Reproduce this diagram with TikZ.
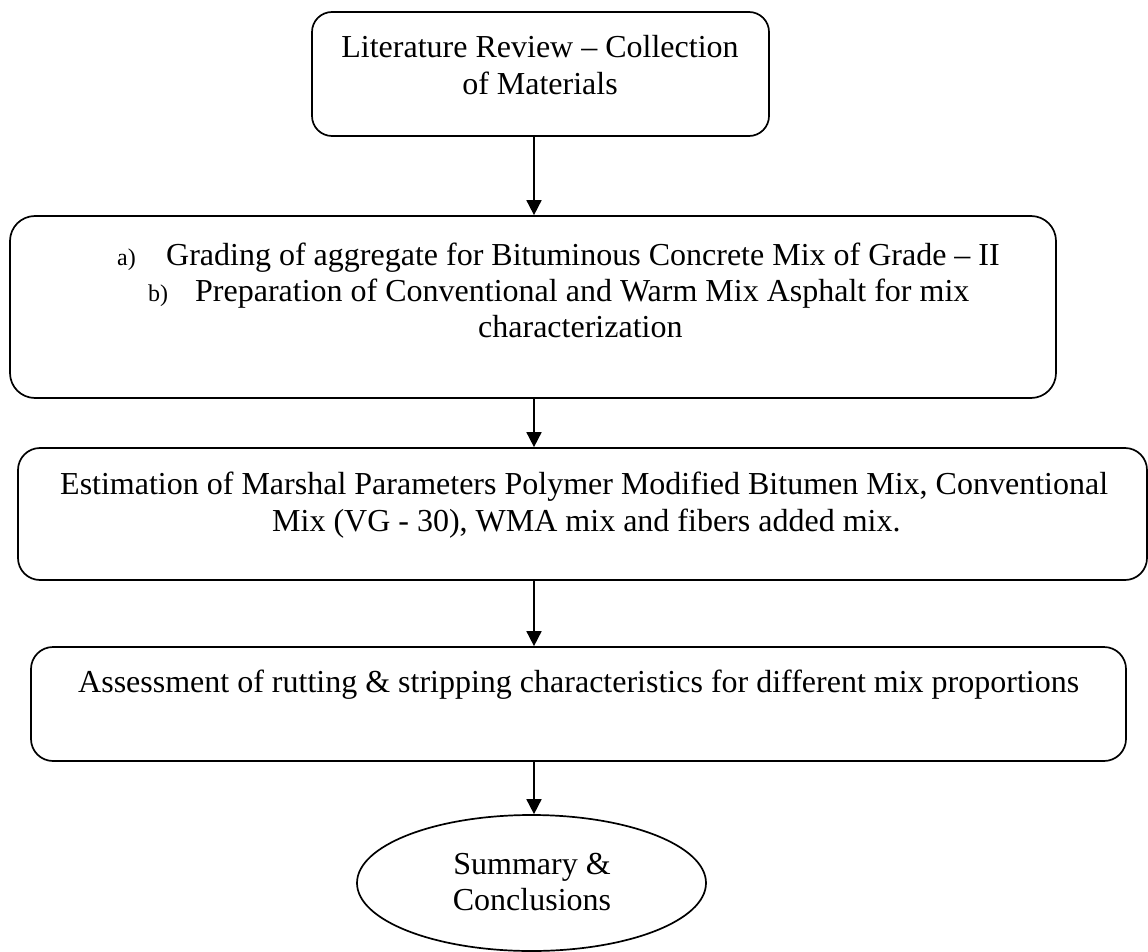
\documentclass[tikz,border=0pt]{standalone}
\usepackage{fontspec}
\setmainfont{Liberation Serif}
\usetikzlibrary{arrows.meta,shapes.geometric}
\tikzset{
  box/.style={draw, line width=1.7pt, rounded corners=#1, inner sep=0pt},
  box/.default=22pt,
  txt/.style={inner sep=0pt, anchor=base west, font=\fontsize{32}{36.8}\selectfont},
  ctxt/.style={inner sep=0pt, anchor=base, font=\fontsize{32}{36.8}\selectfont},
  lbl/.style={inner sep=0pt, anchor=base west, font=\fontsize{24}{28}\selectfont},
  arr/.style={line width=1.7pt, -{Triangle[length=15pt,width=15pt]}},
  oval/.style={draw, line width=1.7pt, ellipse, inner sep=0pt}
}
\begin{document}
\begin{tikzpicture}[x=1pt,y=-1pt]
\useasboundingbox (0,0) rectangle (1148,952);
\fill[white] (0,0) rectangle (1148,952);
% boxes
\node[box=20pt, minimum width=457pt, minimum height=124pt] (b1) at (540.5,74) {};
\node[box=25pt, minimum width=1046pt, minimum height=182pt] (b2) at (533,307) {};
\node[box=22pt, minimum width=1129pt, minimum height=132pt] (b3) at (582.5,514) {};
\node[box=22pt, minimum width=1095pt, minimum height=114pt] (b4) at (578.5,704) {};
\node[oval, minimum width=349pt, minimum height=136pt] (e) at (531.5,883) {};
% texts
\node[ctxt] (t1a) at (540,58) {Literature Review – Collection};
\node[ctxt] (t1b) at (540,94.5) {of Materials};
\node[lbl] (la) at (117,265) {a)};
\node[txt] (t2a) at (166,265) {Grading of aggregate for Bituminous Concrete Mix of Grade – II};
\node[lbl] (lb) at (148,301) {b)};
\node[txt] (t2b) at (195,301) {Preparation of Conventional and Warm Mix Asphalt for mix};
\node[txt] (t2c) at (478,337.5) {characterization};
\node[txt] (t3a) at (60,494) {Estimation of Marshal Parameters Polymer Modified Bitumen Mix, Conventional};
\node[txt] (t3b) at (272,531) {Mix (VG - 30), WMA mix and fibers added mix.};
\node[txt] (t4a) at (78,692) {Assessment of rutting \& stripping characteristics for different mix proportions};
\node[ctxt] (t5a) at (532,874) {Summary \&};
\node[ctxt] (t5b) at (532,910) {Conclusions};
% connectors
\coordinate (ax) at (534,0);
\draw[arr] (ax |- b1.south) -- (ax |- b2.north);
\draw[arr] (ax |- b2.south) -- (ax |- b3.north);
\draw[arr] (ax |- b3.south) -- (ax |- b4.north);
\draw[arr] (ax |- b4.south) -- (ax |- e.north);
\end{tikzpicture}
\end{document}
